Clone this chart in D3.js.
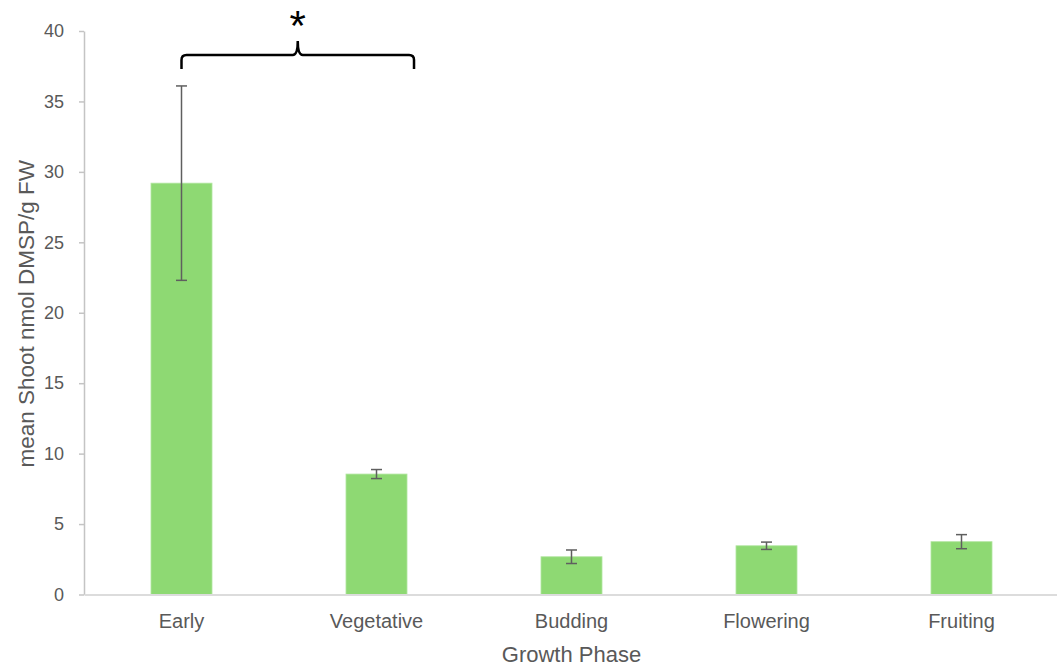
<!DOCTYPE html>
<html>
<head>
<meta charset="utf-8">
<script src="https://cdn.jsdelivr.net/npm/d3@7/dist/d3.min.js"></script>
<style>
  html, body { margin: 0; padding: 0; background: #ffffff; }
  svg { display: block; font-family: "Liberation Sans", Arial, sans-serif; }
</style>
</head>
<body>
<svg id="chart" width="1057" height="669"></svg>
<script>
// Growth phases and mean shoot DMSP (nmol / g FW) with error bar half-widths
const categories = ["Early", "Vegetative", "Budding", "Flowering", "Fruiting"];
const means = [29.2, 8.55, 2.68, 3.46, 3.75];
const errors = [6.9, 0.32, 0.48, 0.26, 0.5];
const yTicks = [0, 5, 10, 15, 20, 25, 30, 35, 40];

const svg = d3.select("#chart");

const plotLeft = 84, plotRight = 1059, plotTop = 31, plotBottom = 594.5;

const x = d3.scaleBand()
  .domain(categories)
  .range([plotLeft, plotRight])
  .paddingInner(0.687)
  .paddingOuter(0.3435);

const y = d3.scaleLinear().domain([0, 40]).range([plotBottom, plotTop]);

const rows = categories.map((c, i) => ({ cat: c, mean: means[i], err: errors[i] }));

// Y axis
const yAxis = svg.append("g")
  .attr("transform", `translate(${plotLeft},0)`)
  .call(d3.axisLeft(y).tickValues(yTicks).tickSize(5).tickSizeOuter(0).tickPadding(15));
yAxis.select(".domain").attr("stroke", "#c4c4c4").attr("stroke-width", 1.5);
yAxis.selectAll(".tick line").attr("stroke", "#c4c4c4").attr("stroke-width", 1.5);
yAxis.selectAll(".tick text")
  .attr("fill", "#595959")
  .style("font-size", "18px")
  .style("font-family", "'Liberation Sans', Arial, sans-serif");

// Bars
svg.append("g").selectAll("rect")
  .data(rows)
  .join("rect")
  .attr("x", d => x(d.cat))
  .attr("y", d => y(d.mean))
  .attr("width", x.bandwidth())
  .attr("height", d => y(0) - y(d.mean))
  .attr("fill", "#8ed973")
  .attr("stroke", "#b3e6a2")
  .attr("stroke-width", 0.8);

// X axis (drawn over the bar bottoms)
const xAxis = svg.append("g")
  .attr("transform", `translate(0,${plotBottom})`)
  .call(d3.axisBottom(x).tickSize(0).tickSizeOuter(0).tickPadding(19));
xAxis.select(".domain").attr("stroke", "#dcdcdc").attr("stroke-width", 2);
xAxis.selectAll(".tick text")
  .attr("fill", "#595959")
  .style("font-size", "20px")
  .style("font-family", "'Liberation Sans', Arial, sans-serif");

// Error bars
const eb = svg.append("g").attr("stroke", "#5f5f5f").attr("stroke-width", 1.5).attr("fill", "none");
const cap = 5.5;
rows.forEach(d => {
  const cx = x(d.cat) + x.bandwidth() / 2;
  const y1 = y(d.mean + d.err), y2 = y(d.mean - d.err);
  eb.append("line").attr("x1", cx).attr("x2", cx).attr("y1", y1).attr("y2", y2);
  eb.append("line").attr("x1", cx - cap).attr("x2", cx + cap).attr("y1", y1).attr("y2", y1);
  eb.append("line").attr("x1", cx - cap).attr("x2", cx + cap).attr("y1", y2).attr("y2", y2);
});

// Axis titles
svg.append("text")
  .attr("x", (plotLeft + plotRight) / 2)
  .attr("y", 661.5)
  .attr("text-anchor", "middle")
  .attr("fill", "#595959")
  .style("font-size", "22px")
  .text("Growth Phase");

svg.append("text")
  .attr("transform", `translate(34,${(plotTop + plotBottom) / 2 + 1}) rotate(-90)`)
  .attr("text-anchor", "middle")
  .attr("fill", "#595959")
  .style("font-size", "22.5px")
  .text("mean Shoot nmol DMSP/g FW");

// Significance bracket between Early and Vegetative
const bx0 = x("Early") + x.bandwidth() / 2;
const bx1 = x("Vegetative") + x.bandwidth() + 7;
const bm = (bx0 + bx1) / 2;
const lineY = 55, endY = 69, peakY = 41, r = 5;
const p = d3.path();
p.moveTo(bx0, endY);
p.lineTo(bx0, lineY + r);
p.quadraticCurveTo(bx0, lineY, bx0 + r, lineY);
p.lineTo(bm - r, lineY);
p.quadraticCurveTo(bm, lineY, bm, peakY);
p.quadraticCurveTo(bm, lineY, bm + r, lineY);
p.lineTo(bx1 - r, lineY);
p.quadraticCurveTo(bx1, lineY, bx1, lineY + r);
p.lineTo(bx1, endY);
svg.append("path")
  .attr("d", p.toString())
  .attr("fill", "none")
  .attr("stroke", "#000")
  .attr("stroke-width", 2.5);

svg.append("text")
  .attr("x", bm)
  .attr("y", 40)
  .attr("text-anchor", "middle")
  .attr("fill", "#000")
  .style("font-size", "42px")
  .text("*");
</script>
</body>
</html>
